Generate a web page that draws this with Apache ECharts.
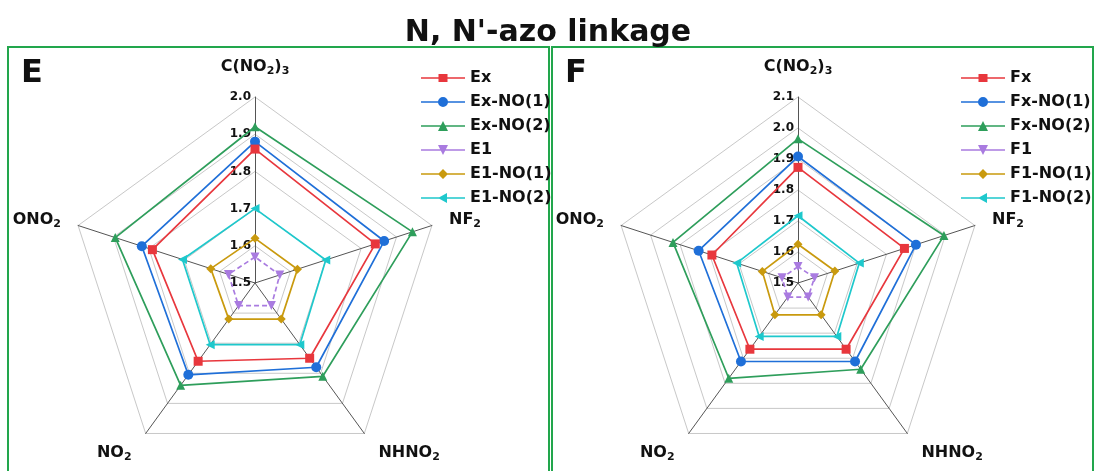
<!DOCTYPE html>
<html>
<head>
<meta charset="utf-8">
<script src="https://cdn.jsdelivr.net/npm/echarts@6/dist/echarts.min.js"></script>
<style>
  html, body { margin: 0; padding: 0; background: #fff; }
  #chart { width: 1096px; height: 471px; }
</style>
</head>
<body>
<div id="chart"></div>
<script>
// axis order: top, then counterclockwise
const axisNames = ['C(NO2)3', 'ONO2', 'NO2', 'NHNO2', 'NF2'];
const tickLabelsE = ['1.5', '1.6', '1.7', '1.8', '1.9', '2.0'];
const tickLabelsF = ['1.5', '1.6', '1.7', '1.8', '1.9', '2.0', '2.1'];

const namesE = ['Ex', 'Ex-NO(1)', 'Ex-NO(2)', 'E1', 'E1-NO(1)', 'E1-NO(2)'];
const namesF = ['Fx', 'Fx-NO(1)', 'Fx-NO(2)', 'F1', 'F1-NO(1)', 'F1-NO(2)'];

const ex     = [1.86, 1.79, 1.76, 1.75, 1.84];
const exNo1  = [1.88, 1.82, 1.805, 1.78, 1.865];
const exNo2  = [1.92, 1.895, 1.84, 1.81, 1.945];
const e1     = [1.57, 1.575, 1.575, 1.575, 1.57];
const e1No1  = [1.62, 1.625, 1.62, 1.62, 1.62];
const e1No2  = [1.70, 1.705, 1.705, 1.705, 1.70];

const fx     = [1.873, 1.792, 1.764, 1.764, 1.861];
const fxNo1  = [1.908, 1.837, 1.813, 1.813, 1.90];
const fxNo2  = [1.965, 1.924, 1.88, 1.844, 1.995];
const f1     = [1.553, 1.554, 1.556, 1.556, 1.556];
const f1No1  = [1.625, 1.621, 1.627, 1.627, 1.625];
const f1No2  = [1.717, 1.708, 1.713, 1.713, 1.708];

const colors = ['#e8373d', '#1f6fd8', '#2e9e5b', '#a97be0', '#c99a0e', '#1ec8cc'];
const symbols = [
  'rect', 'circle', 'triangle',
  'path://M0,0 L10,0 L5,9 Z',
  'diamond',
  'path://M0,5 L9,0 L9,10 Z'
];
// legend icons: line + marker in one path (44 x 10 box)
const lineBar = 'M0,4.3 L44,4.3 L44,5.7 L0,5.7 Z ';
const legendIcons = [
  'path://' + lineBar + 'M17.5,1 L26.5,1 L26.5,9 L17.5,9 Z',
  'path://' + lineBar + 'M27,5 A5,5 0 1 1 17,5 A5,5 0 1 1 27,5 Z',
  'path://' + lineBar + 'M22,0 L27,10 L17,10 Z',
  'path://' + lineBar + 'M17,0 L27,0 L22,10 Z',
  'path://' + lineBar + 'M22,0 L27,5 L22,10 L17,5 Z',
  'path://' + lineBar + 'M17,5 L26,0 L26,10 Z'
];

const richNames = {
  'C(NO2)3': '{t|C(NO}{s|2}{t|)}{s|3}',
  'ONO2': '{t|ONO}{s|2}',
  'NO2': '{t|NO}{s|2}',
  'NHNO2': '{t|NHNO}{s|2}',
  'NF2': '{t|NF}{s|2}'
};
const nameGaps = [20, 18, 24, 24, 18];

const font = 'DejaVu Sans, sans-serif';

function makeRadar(cx, ticks) {
  const min = parseFloat(ticks[0]);
  const max = parseFloat(ticks[ticks.length - 1]);
  return {
    center: [cx, 283],
    radius: 186,
    startAngle: 90,
    shape: 'polygon',
    splitNumber: ticks.length - 1,
    indicator: axisNames.map((n, i) => ({
      name: n, min: min, max: max,
      nameGap: nameGaps[i],
      axisLabel: i === 0 ? {
        show: true, color: '#111', fontWeight: 'bold', fontSize: 12,
        fontFamily: font, margin: 4,
        formatter: v => v.toFixed(1)
      } : { show: false }
    })),
    axisName: {
      color: '#111',
      formatter: v => richNames[v],
      rich: {
        t: { fontSize: 16, fontWeight: 'bold', fontFamily: font, color: '#111', lineHeight: 20 },
        s: { fontSize: 11, fontWeight: 'bold', fontFamily: font, color: '#111', lineHeight: 11, verticalAlign: 'bottom' }
      }
    },
    nameGap: 18,
    axisLine: { lineStyle: { color: '#555', width: 1 } },
    splitLine: { lineStyle: { color: '#c8c8c8', width: 1 } },
    splitArea: { show: false },
    axisTick: { show: false },
    axisLabel: { show: false }
  };
}

function makeSeries(names, values, radarIndex) {
  return names.map((n, i) => ({
    type: 'radar',
    radarIndex: radarIndex,
    name: n,
    symbol: symbols[i],
    symbolSize: i === 1 ? 10 : 9,
    lineStyle: { color: colors[i], width: 1.7, type: i === 3 ? [5, 3] : 'solid' },
    itemStyle: { color: colors[i] },
    data: [{ name: n, value: values[i] }],
    z: 10 - i
  }));
}

function makeLegend(names, left) {
  return {
    orient: 'vertical',
    left: left,
    top: 65,
    itemWidth: 44,
    itemHeight: 10,
    itemGap: 8,
    data: names.map((n, i) => ({ name: n, icon: legendIcons[i] })),
    textStyle: { fontSize: 16, fontWeight: 'bold', fontFamily: font, color: '#111' },
    itemStyle: { borderWidth: 0 },
    lineStyle: { width: 0 }
  };
}

const chart = echarts.init(document.getElementById('chart'), null, { renderer: 'canvas' });

chart.setOption({
  animation: false,
  backgroundColor: '#fff',
  title: {
    text: "N, N'-azo linkage",
    left: 'center',
    top: 13,
    textStyle: { fontSize: 30, fontWeight: 'bold', fontFamily: font, color: '#111' }
  },
  legend: [makeLegend(namesE, 416), makeLegend(namesF, 956)],
  radar: [makeRadar(255, tickLabelsE), makeRadar(798, tickLabelsF)],
  series: makeSeries(namesE, [ex, exNo1, exNo2, e1, e1No1, e1No2], 0)
    .concat(makeSeries(namesF, [fx, fxNo1, fxNo2, f1, f1No1, f1No2], 1)),
  graphic: [
    { type: 'rect', shape: { x: 8, y: 47, width: 541, height: 440 },
      style: { fill: 'none', stroke: '#22a64c', lineWidth: 2 }, silent: true },
    { type: 'rect', shape: { x: 552, y: 47, width: 541, height: 440 },
      style: { fill: 'none', stroke: '#22a64c', lineWidth: 2 }, silent: true },
    { type: 'text', left: 21, top: 58,
      style: { text: 'E', fontSize: 32, fontWeight: 'bold', fontFamily: font, fill: '#111' } },
    { type: 'text', left: 565, top: 58,
      style: { text: 'F', fontSize: 32, fontWeight: 'bold', fontFamily: font, fill: '#111' } }
  ]
});
</script>
</body>
</html>
